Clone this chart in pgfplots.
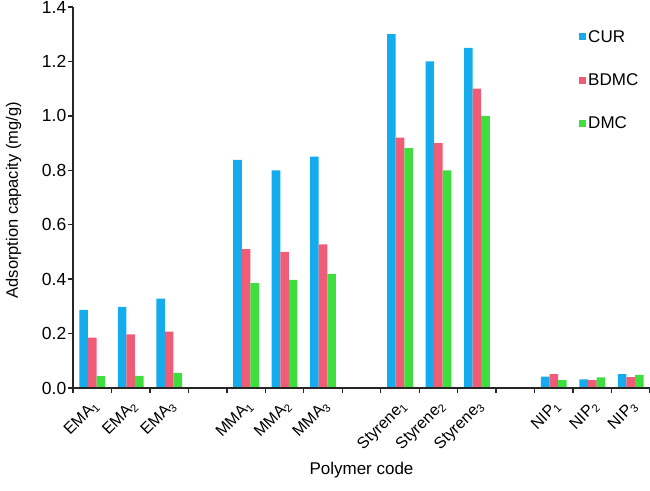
\documentclass[border=0pt]{standalone}
\usepackage{fontspec}
\setmainfont{Liberation Sans}
\usepackage{pgfplots}
\pgfplotsset{compat=1.18}
\definecolor{cur}{RGB}{20,172,236}
\definecolor{bdmc}{RGB}{240,92,118}
\definecolor{dmc}{RGB}{62,222,62}
\begin{document}
\begin{tikzpicture}
\begin{axis}[name=ax,
  scale only axis, width=577pt, height=381pt,
  xmin=-0.5, xmax=14.5, ymin=0, ymax=1.4,
  axis x line*=bottom, axis y line*=left,
  axis on top,
  axis line style={line width=1.3pt, black!85},
  ybar=0pt, bar width=8.6pt,
  ytick={0,0.2,...,1.4},
  yticklabel style={/pgf/number format/fixed, /pgf/number format/fixed zerofill, /pgf/number format/precision=1, font=\fontsize{17.5}{20}\selectfont, inner sep=2pt},
  /pgf/number format/assume math mode=true,
  tick align=outside, major tick length=4.5pt,
  tick style={line width=1.3pt, black!85},
  xtick={-0.5,0.5,...,14.5},
  xticklabels={},
  extra x ticks={0,1,2,4,5,6,8,9,10,12,13,14},
  extra x tick labels={EMA\textsubscript{1},EMA\textsubscript{2},EMA\textsubscript{3},MMA\textsubscript{1},MMA\textsubscript{2},MMA\textsubscript{3},Styrene\textsubscript{1},Styrene\textsubscript{2},Styrene\textsubscript{3},NIP\textsubscript{1},NIP\textsubscript{2},NIP\textsubscript{3}},
  extra x tick style={major tick length=0pt, xticklabel style={rotate=45, anchor=north east, font=\fontsize{16}{19}\selectfont, inner sep=1pt, xshift=-7pt, yshift=-6pt}},
  xlabel={Polymer code}, ylabel={Adsorption capacity (mg/g)},
  xlabel style={at={(axis description cs:0.5,-0.215)}, anchor=center, font=\fontsize{17}{20}\selectfont},
  ylabel style={at={(axis description cs:-0.103,0.493)}, anchor=center, rotate=0, font=\fontsize{16.5}{20}\selectfont},
  legend style={draw=none, fill=none, at={(axis description cs:0.877,0.945)}, anchor=north west, font=\fontsize{17}{20}\selectfont, row sep=26pt, inner sep=0pt, nodes={inner sep=2pt}},
  legend cell align=left,
  legend image code/.code={\fill (0pt,-3.5pt) rectangle (7pt,3.5pt);},
]
\addplot[fill=cur, draw=none] coordinates {(0,0.287) (1,0.298) (2,0.328) (4,0.838) (5,0.80) (6,0.85) (8,1.30) (9,1.20) (10,1.25) (12,0.042) (13,0.032) (14,0.051)};
\addplot[fill=bdmc, draw=none] coordinates {(0,0.185) (1,0.197) (2,0.207) (4,0.51) (5,0.50) (6,0.528) (8,0.92) (9,0.90) (10,1.10) (12,0.051) (13,0.029) (14,0.040)};
\addplot[fill=dmc, draw=none] coordinates {(0,0.044) (1,0.045) (2,0.056) (4,0.385) (5,0.397) (6,0.419) (8,0.881) (9,0.80) (10,1.00) (12,0.029) (13,0.039) (14,0.048)};
\legend{CUR,BDMC,DMC}
\end{axis}
\pgfresetboundingbox
\path (ax.south west) ++(-73pt,-102pt) rectangle ++(650pt,490pt);
\end{tikzpicture}
\end{document}
